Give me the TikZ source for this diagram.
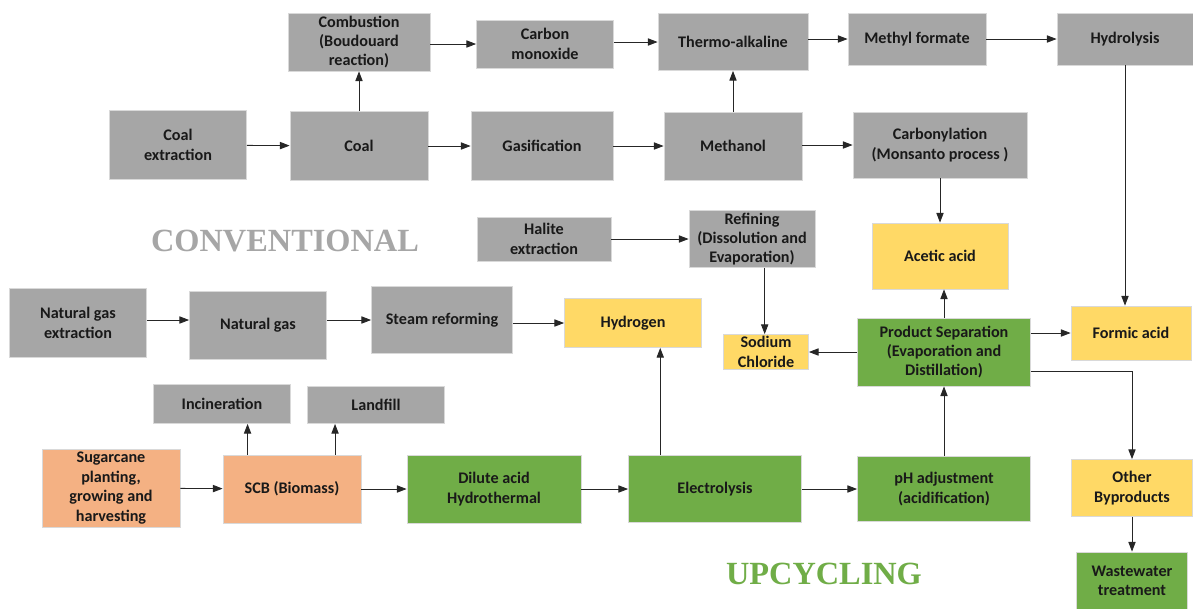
\documentclass[tikz,border=0pt]{standalone}
\usepackage{xcolor}
\usepackage{fontspec}
\setmainfont{Carlito}
\newfontfamily\headfont{Liberation Serif}
\usepackage{tikz}
\usetikzlibrary{positioning, arrows.meta, calc}
\definecolor{convgray}{HTML}{A6A6A6}
\definecolor{prodyellow}{HTML}{FFD966}
\definecolor{upgreen}{HTML}{70AD47}
\definecolor{feedorange}{HTML}{F4B183}
\tikzset{
  sz/.style 2 args={
    minimum width=#1*0.025cm,
    minimum height=#2*0.025cm
  }
}

\begin{document}
\begin{tikzpicture}[
      x=0.025cm, y=-0.025cm,
      box/.style={
        draw=white!85!black,
        line width=0.6pt,
        inner sep=1pt,
        align=center,
        text=black!90,
        font=\bfseries\fontsize{11.5}{13.8}\selectfont
      },
      conv/.style={box, fill=convgray},
      prod/.style={box, fill=prodyellow},
      upc/.style={box, fill=upgreen},
      feed/.style={box, fill=feedorange},
      arrow/.style={
        -{Triangle[length=2.4mm, width=1.8mm]},
        line width=0.6pt,
        draw=black!85
      },
      title/.style={
        font=\headfont\bfseries\fontsize{23}{26}\selectfont
      }
    ]

    \useasboundingbox[fill=white] (0,0) rectangle (1193,608);

    \node[conv, sz={142}{58}] (combust) at (359,42) {Combustion\\(Boudouard\\reaction)};
    \node[conv, sz={137}{48}] (carbmono) at (545,44) {Carbon\\monoxide};
    \node[conv, sz={150}{57}] (thermo) at (733,42) {Thermo-alkaline};
    \node[conv, sz={138}{52}] (methylf) at (917,39) {Methyl formate};
    \node[conv, sz={136}{52}] (hydrolysis) at (1125,39) {Hydrolysis};

    \node[conv, sz={137}{69}] (coalext) at (178,145) {Coal\\extraction};
    \node[conv, sz={138}{69}] (coal) at (359,146) {Coal};
    \node[conv, sz={142}{69}] (gasif) at (542,146) {Gasification};
    \node[conv, sz={138}{68}] (methanol) at (733,146) {Methanol};
    \node[conv, sz={174}{66}] (carbonyl) at (940,145) {Carbonylation\\(Monsanto process )};

    \node[title, text=convgray] (convlabel) at (285,241) {CONVENTIONAL};
    \node[conv, sz={134}{44}] (halite) at (544,239) {Halite\\extraction};
    \node[conv, sz={126}{57}] (refining) at (752,239) {Refining\\(Dissolution and\\Evaporation)};
    \node[prod, sz={136}{66}] (acetic) at (940,256) {Acetic acid};

    \node[conv, sz={137}{69}] (natgasext) at (78,323) {Natural gas\\extraction};
    \node[conv, sz={137}{68}] (natgas) at (258,325) {Natural gas};
    \node[conv, sz={141}{67}] (steam) at (442,320) {Steam reforming};
    \node[prod, sz={137}{49}] (hydrogen) at (633,323) {Hydrogen};
    \node[prod, sz={85}{35}] (sodium) at (766,352) {Sodium\\Chloride};
    \node[upc, sz={173}{68}] (prodsep) at (944,352) {Product Separation\\(Evaporation and\\Distillation)};
    \node[prod, sz={120}{54}] (formic) at (1131,333) {Formic acid};

    \node[conv, sz={137}{39}] (incin) at (222,404) {Incineration};
    \node[conv, sz={137}{37}] (landfill) at (376,405) {Landfill};

    \node[feed, sz={138}{78}] (sugarcane) at (111,488) {Sugarcane\\planting,\\growing and\\harvesting};
    \node[feed, sz={138}{68}] (scb) at (292,489) {SCB (Biomass)};
    \node[upc, sz={174}{68}] (dilute) at (494,489) {Dilute acid\\Hydrothermal};
    \node[upc, sz={173}{67}] (electro) at (715,489) {Electrolysis};
    \node[upc, sz={173}{65}] (phadj) at (944,489) {pH adjustment\\(acidification)};
    \node[prod, sz={121}{57}] (other) at (1132,488) {Other\\Byproducts};
    \node[upc, sz={111}{58}] (waste) at (1132,581) {Wastewater\\treatment};
    \node[title, text=upgreen] (uplabel) at (824,574) {UPCYCLING};

    \draw[arrow] (combust.east |- carbmono) -- (carbmono.west);
    \draw[arrow] (carbmono.east |- thermo) -- (thermo.west);
    \draw[arrow] (thermo.east |- methylf) -- (methylf.west);
    \draw[arrow] (methylf.east |- hydrolysis) -- (hydrolysis.west);

    \draw[arrow] (coalext) -- (coal);
    \draw[arrow] (coal) -- (combust);
    \draw[arrow] (coal) -- (gasif);
    \draw[arrow] (gasif) -- (methanol);
    \draw[arrow] (methanol) -- (thermo);
    \draw[arrow] (methanol.east |- carbonyl) -- (carbonyl.west);
    \draw[arrow] (carbonyl) -- (acetic);
    \draw[arrow] (hydrolysis.south) -- (hydrolysis.south |- formic.north);

    \draw[arrow] (halite) -- (refining);
    \draw[arrow] ($(refining.south west)!0.6!(refining.south east)$) coordinate (r1) -- (r1 |- sodium.north);

    \draw[arrow] (natgasext.east |- steam) -- (natgas.west |- steam);
    \draw[arrow] (natgas.east |- steam) -- (steam.west);
    \draw[arrow] (steam.east |- hydrogen) -- (hydrogen.west);

    \draw[arrow] (prodsep) -- (prodsep.north |- acetic.south);
    \draw[arrow] (prodsep.east |- formic) -- (formic.west);
    \draw[arrow] (prodsep) -- (sodium);
    \draw[arrow] ($(prodsep.east)!0.55!(prodsep.south east)$) -| (other.north);

    \draw[arrow] ($(scb.north west)!0.18!(scb.north east)$) coordinate (s1) -- (s1 |- incin.south);
    \draw[arrow] ($(scb.north west)!0.81!(scb.north east)$) coordinate (s2) -- (s2 |- landfill.south);

    \draw[arrow] (sugarcane) -- (scb);
    \draw[arrow] (scb) -- (dilute);
    \draw[arrow] (dilute) -- (electro);
    \draw[arrow] (electro) -- (phadj);
    \draw[arrow] ($(electro.north west)!0.185!(electro.north east)$) coordinate (e1) -- (e1 |- hydrogen.south);
    \draw[arrow] (phadj) -- (prodsep);
    \draw[arrow] (other) -- (waste);

    \end{tikzpicture}
\end{document}
